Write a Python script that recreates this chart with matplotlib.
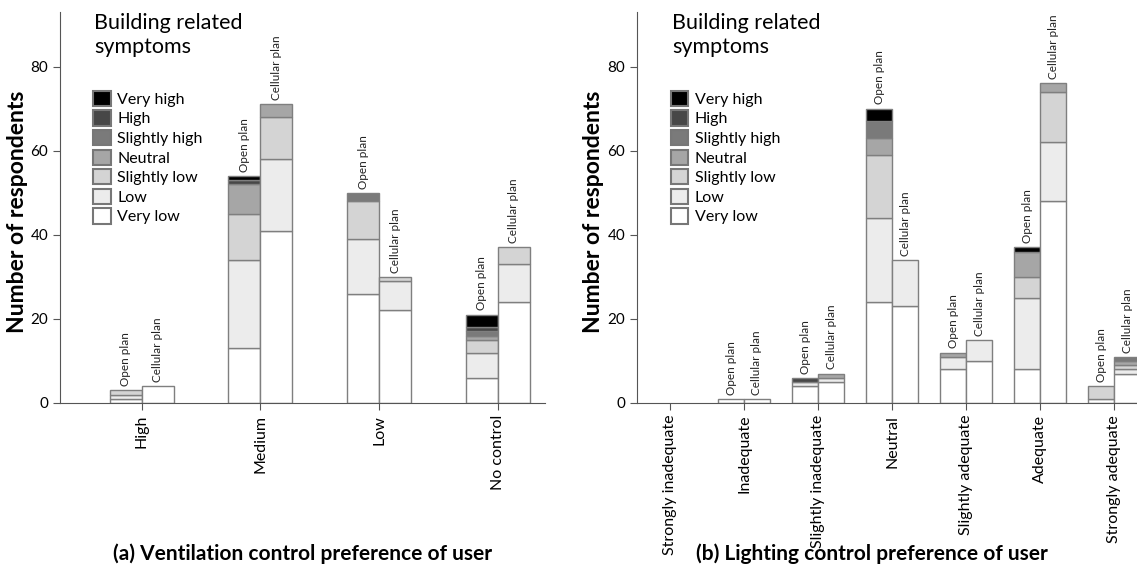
import numpy as np
import matplotlib.pyplot as plt

plt.rcParams['font.family'] = ['Lato', 'DejaVu Sans']

levels = ['Very low', 'Low', 'Slightly low', 'Neutral', 'Slightly high', 'High', 'Very high']
colors = ['#ffffff', '#ececec', '#d4d4d4', '#a6a6a6', '#7a7a7a', '#474747', '#000000']

# ventilation control preference (rows = categories, cols = levels very low -> very high)
vent_cats = ['High', 'Medium', 'Low', 'No control']
vent_open = [[1, 1, 1, 0, 0, 0, 0],
             [13, 21, 11, 7, 0, 1, 1],
             [26, 13, 9, 0, 2, 0, 0],
             [6, 6, 3, 1, 1, 1, 3]]
vent_cell = [[4, 0, 0, 0, 0, 0, 0],
             [41, 17, 10, 3, 0, 0, 0],
             [22, 7, 1, 0, 0, 0, 0],
             [24, 9, 4, 0, 0, 0, 0]]

# lighting control preference
light_cats = ['Strongly inadequate', 'Inadequate', 'Slightly inadequate', 'Neutral',
              'Slightly adequate', 'Adequate', 'Strongly adequate']
light_open = [[0, 0, 0, 0, 0, 0, 0],
              [1, 0, 0, 0, 0, 0, 0],
              [4, 1, 0, 0, 0, 1, 0],
              [24, 20, 15, 4, 4, 0, 3],
              [8, 3, 0, 1, 0, 0, 0],
              [8, 17, 5, 6, 0, 0, 1],
              [1, 0, 3, 0, 0, 0, 0]]
light_cell = [[0, 0, 0, 0, 0, 0, 0],
              [1, 0, 0, 0, 0, 0, 0],
              [5, 1, 0, 1, 0, 0, 0],
              [23, 11, 0, 0, 0, 0, 0],
              [10, 5, 0, 0, 0, 0, 0],
              [48, 14, 12, 2, 0, 0, 0],
              [7, 1, 1, 1, 1, 0, 0]]


def panel(ax, cats, op, ce, width, xlim, title):
    x = np.arange(len(cats))
    for data, off, lab in [(np.array(op), -width / 2, 'Open plan'), (np.array(ce), width / 2, 'Cellular plan')]:
        bottom = np.zeros(len(cats))
        for j in range(len(levels)):
            vals = data[:, j]
            lw = np.where(vals > 0, 1.0, 0.0)
            ax.bar(x + off, vals, width, bottom=bottom, color=colors[j],
                   edgecolor='#7f7f7f', linewidth=lw, label=levels[j] if off < 0 else None)
            bottom += vals
        for i in range(len(cats)):
            if bottom[i] > 0:
                ax.text(x[i] + off, bottom[i] + 1, lab, rotation=90, ha='center', va='bottom',
                        fontsize=8.5, color='#222222')
    ax.set_xticks(x)
    ax.set_xticklabels(cats, rotation=90, fontsize=11.5)
    ax.set_xlim(*xlim)
    ax.set_ylim(0, 93)
    ax.set_yticks([0, 20, 40, 60, 80])
    ax.tick_params(axis='y', labelsize=11, length=5, color='#555555')
    ax.tick_params(axis='x', length=5, color='#555555')
    ax.set_ylabel('Number of respondents', fontsize=16.5, fontweight='bold')
    for s in ['top', 'right']:
        ax.spines[s].set_visible(False)
    for s in ['left', 'bottom']:
        ax.spines[s].set_color('#555555')
    ax.text(0.07, 0.998, 'Building related\nsymptoms', transform=ax.transAxes,
            ha='left', va='top', fontsize=15.5, linespacing=1.25)
    h, l = ax.get_legend_handles_labels()
    leg = ax.legend(h[::-1], l[::-1], loc='upper left', bbox_to_anchor=(0.055, 0.815),
                    frameon=False, fontsize=11.5, handlelength=1.1, handleheight=1.1,
                    handletextpad=0.4, labelspacing=0.22, borderaxespad=0)
    for p in leg.get_patches():
        p.set_linewidth(1.5)
        p.set_edgecolor('#777777')
    ax.set_xlabel(title, fontsize=15, fontweight='bold')


fig = plt.figure(figsize=(11.37, 5.72), dpi=100)
ax1 = fig.add_axes([0.0528, 0.2955, 0.4266, 0.6836])
ax2 = fig.add_axes([0.5602, 0.2955, 0.44, 0.6836])
panel(ax1, vent_cats, vent_open, vent_cell, 0.27, (-0.69, 3.4), '(a) Ventilation control preference of user')
panel(ax2, light_cats, light_open, light_cell, 0.35, (-0.446, 6.31), '(b) Lighting control preference of user')
ax1.xaxis.set_label_coords(0.5, -0.36)
ax2.xaxis.set_label_coords(0.47, -0.36)
ax1.yaxis.set_label_coords(-0.066, 0.49)
ax2.yaxis.set_label_coords(-0.066, 0.49)

fig.savefig('out.png', dpi=100)
